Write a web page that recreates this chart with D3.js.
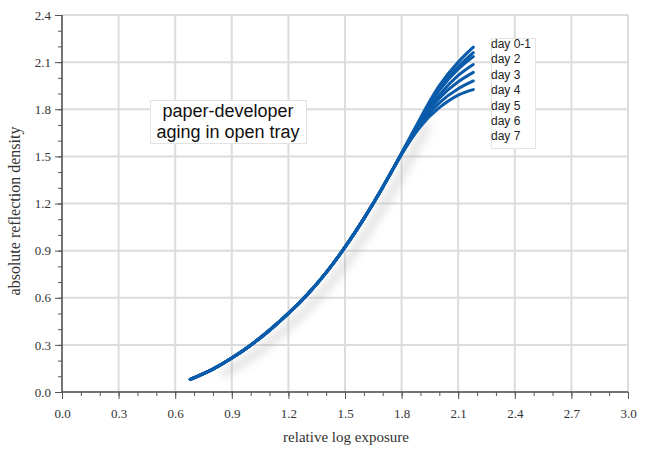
<!DOCTYPE html>
<html>
<head>
<meta charset="utf-8">
<script src="https://cdn.jsdelivr.net/npm/d3@7/dist/d3.min.js"></script>
<style>
  html, body { margin: 0; padding: 0; background: #fff; }
  svg { display: block; }
</style>
</head>
<body>
<svg id="chart" width="650" height="449"></svg>
<script>
// ---- data ----
const exposure = [0.68, 0.8, 0.9, 1.0, 1.1, 1.2, 1.3, 1.4, 1.5, 1.6, 1.7, 1.8, 1.9, 2.0, 2.1, 2.18];
const baseToe = [0.08, 0.146, 0.216, 0.298, 0.393, 0.50, 0.62, 0.76, 0.922, 1.104, 1.304];
const dayLabels = ["day 0-1", "day 2", "day 3", "day 4", "day 5", "day 6", "day 7"];
const day01 = [1.52, 1.745, 1.95, 2.10, 2.195];
const day2  = [1.52, 1.738, 1.93, 2.07, 2.160];
const day3  = [1.52, 1.733, 1.92, 2.055, 2.135];
const day4  = [1.517, 1.722, 1.89, 2.015, 2.085];
const day5  = [1.516, 1.713, 1.87, 1.975, 2.035];
const day6  = [1.514, 1.70, 1.84, 1.93, 1.980];
const day7  = [1.513, 1.69, 1.81, 1.89, 1.925];
const shoulders = [day01, day2, day3, day4, day5, day6, day7];
const xTicks = [0.0, 0.3, 0.6, 0.9, 1.2, 1.5, 1.8, 2.1, 2.4, 2.7, 3.0];
const yTicks = [0.0, 0.3, 0.6, 0.9, 1.2, 1.5, 1.8, 2.1, 2.4];
const titleLines = ["paper-developer", "aging in open tray"];

// ---- layout ----
const svg = d3.select("#chart");
const x = d3.scaleLinear().domain([0, 3]).range([62, 628]);
const y = d3.scaleLinear().domain([0, 2.4]).range([392, 15]);
const serif = "'Liberation Serif', 'DejaVu Serif', serif";
const sans = "'Liberation Sans', Arial, Helvetica, sans-serif";

const defs = svg.append("defs");
const f = defs.append("filter").attr("id", "shadow")
  .attr("x", "-20%").attr("y", "-20%").attr("width", "140%").attr("height", "140%");
f.append("feGaussianBlur").attr("stdDeviation", 4.5);

// grid
const grid = svg.append("g");
grid.selectAll("line.vx").data(xTicks.slice(1)).join("line")
  .attr("x1", d => x(d)).attr("x2", d => x(d))
  .attr("y1", y(0)).attr("y2", y(2.4))
  .attr("stroke", "#dcdcdc").attr("stroke-width", 2);
grid.selectAll("line.hy").data(yTicks.slice(1)).join("line")
  .attr("x1", x(0)).attr("x2", x(3))
  .attr("y1", d => y(d)).attr("y2", d => y(d))
  .attr("stroke", "#dcdcdc").attr("stroke-width", 2);

// curves data
const series = shoulders.map(s => exposure.map((e, i) => [e, i < baseToe.length ? baseToe[i] : s[i - baseToe.length]]));
const line = d3.line().x(d => x(d[0])).y(d => y(d[1])).curve(d3.curveNatural);

// shadow
const shadowG = svg.append("g").attr("filter", "url(#shadow)").attr("transform", "translate(8,6)");
shadowG.append("path").datum(series[0].slice(1, 13)).attr("d", line)
  .attr("fill", "none").attr("stroke", "#a8a8a8").attr("stroke-width", 8).attr("opacity", 0.35);

// axes
const xAxis = svg.append("g").attr("transform", `translate(0,${y(0)})`);
xAxis.call(d3.axisBottom(x).tickValues(d3.range(0, 31).map(i => i / 10)).tickSize(4).tickFormat(""));
const xMaj = svg.append("g").attr("transform", `translate(0,${y(0)})`);
xMaj.call(d3.axisBottom(x).tickValues(xTicks).tickSize(7).tickPadding(10).tickFormat(d3.format(".1f")));
xMaj.select(".domain").remove();
[xAxis, xMaj].forEach(g => g.selectAll(".tick line").attr("stroke", "#555"));
xAxis.select(".domain").attr("stroke", "#444").attr("stroke-width", 1.5).attr("d", `M${x(0)},0H${x(3)}`);
xMaj.selectAll("text").attr("font-family", serif).attr("font-size", 13).attr("fill", "#333");

const yAxis = svg.append("g").attr("transform", `translate(${x(0)},0)`);
yAxis.call(d3.axisLeft(y).tickValues(d3.range(0, 25).map(i => i / 10)).tickSize(4).tickFormat(""));
const yMaj = svg.append("g").attr("transform", `translate(${x(0)},0)`);
yMaj.call(d3.axisLeft(y).tickValues(yTicks).tickSize(7).tickPadding(4).tickFormat(d3.format(".1f")));
yMaj.select(".domain").remove();
[yAxis, yMaj].forEach(g => g.selectAll(".tick line").attr("stroke", "#555"));
yAxis.select(".domain").attr("stroke", "#444").attr("stroke-width", 1.5).attr("d", `M0,${y(0)}V${y(2.4)}`);
yMaj.selectAll("text").attr("font-family", serif).attr("font-size", 13).attr("fill", "#333");

// axis titles
svg.append("text").attr("x", 346).attr("y", 442).attr("text-anchor", "middle")
  .attr("font-family", serif).attr("font-size", 15).attr("fill", "#333").text("relative log exposure");
svg.append("text").attr("transform", `translate(20,211) rotate(-90)`).attr("text-anchor", "middle")
  .attr("font-family", serif).attr("font-size", 16).attr("fill", "#333").text("absolute reflection density");

// curves
svg.append("g").selectAll("path").data(series.slice().reverse()).join("path")
  .attr("d", line).attr("fill", "none").attr("stroke", "#0a5cab")
  .attr("stroke-width", 3).attr("stroke-linecap", "round");

// title box
svg.append("rect").attr("x", 150.5).attr("y", 100.5).attr("width", 156).attr("height", 43)
  .attr("fill", "#fff").attr("stroke", "#e2e2e2");
svg.append("g").selectAll("text").data(titleLines).join("text")
  .attr("x", 228).attr("y", (d, i) => 117 + i * 21).attr("text-anchor", "middle")
  .attr("font-family", sans).attr("font-size", 18).attr("fill", "#111").text(d => d);

// legend
svg.append("rect").attr("x", 491.5).attr("y", 38.5).attr("width", 44).attr("height", 110)
  .attr("fill", "#fff").attr("stroke", "#e4e4e4");
svg.append("g").selectAll("text").data(dayLabels).join("text")
  .attr("x", 491).attr("y", (d, i) => 48 + i * 15.4)
  .attr("font-family", sans).attr("font-size", 12).attr("fill", "#222").text(d => d);
</script>
</body>
</html>
